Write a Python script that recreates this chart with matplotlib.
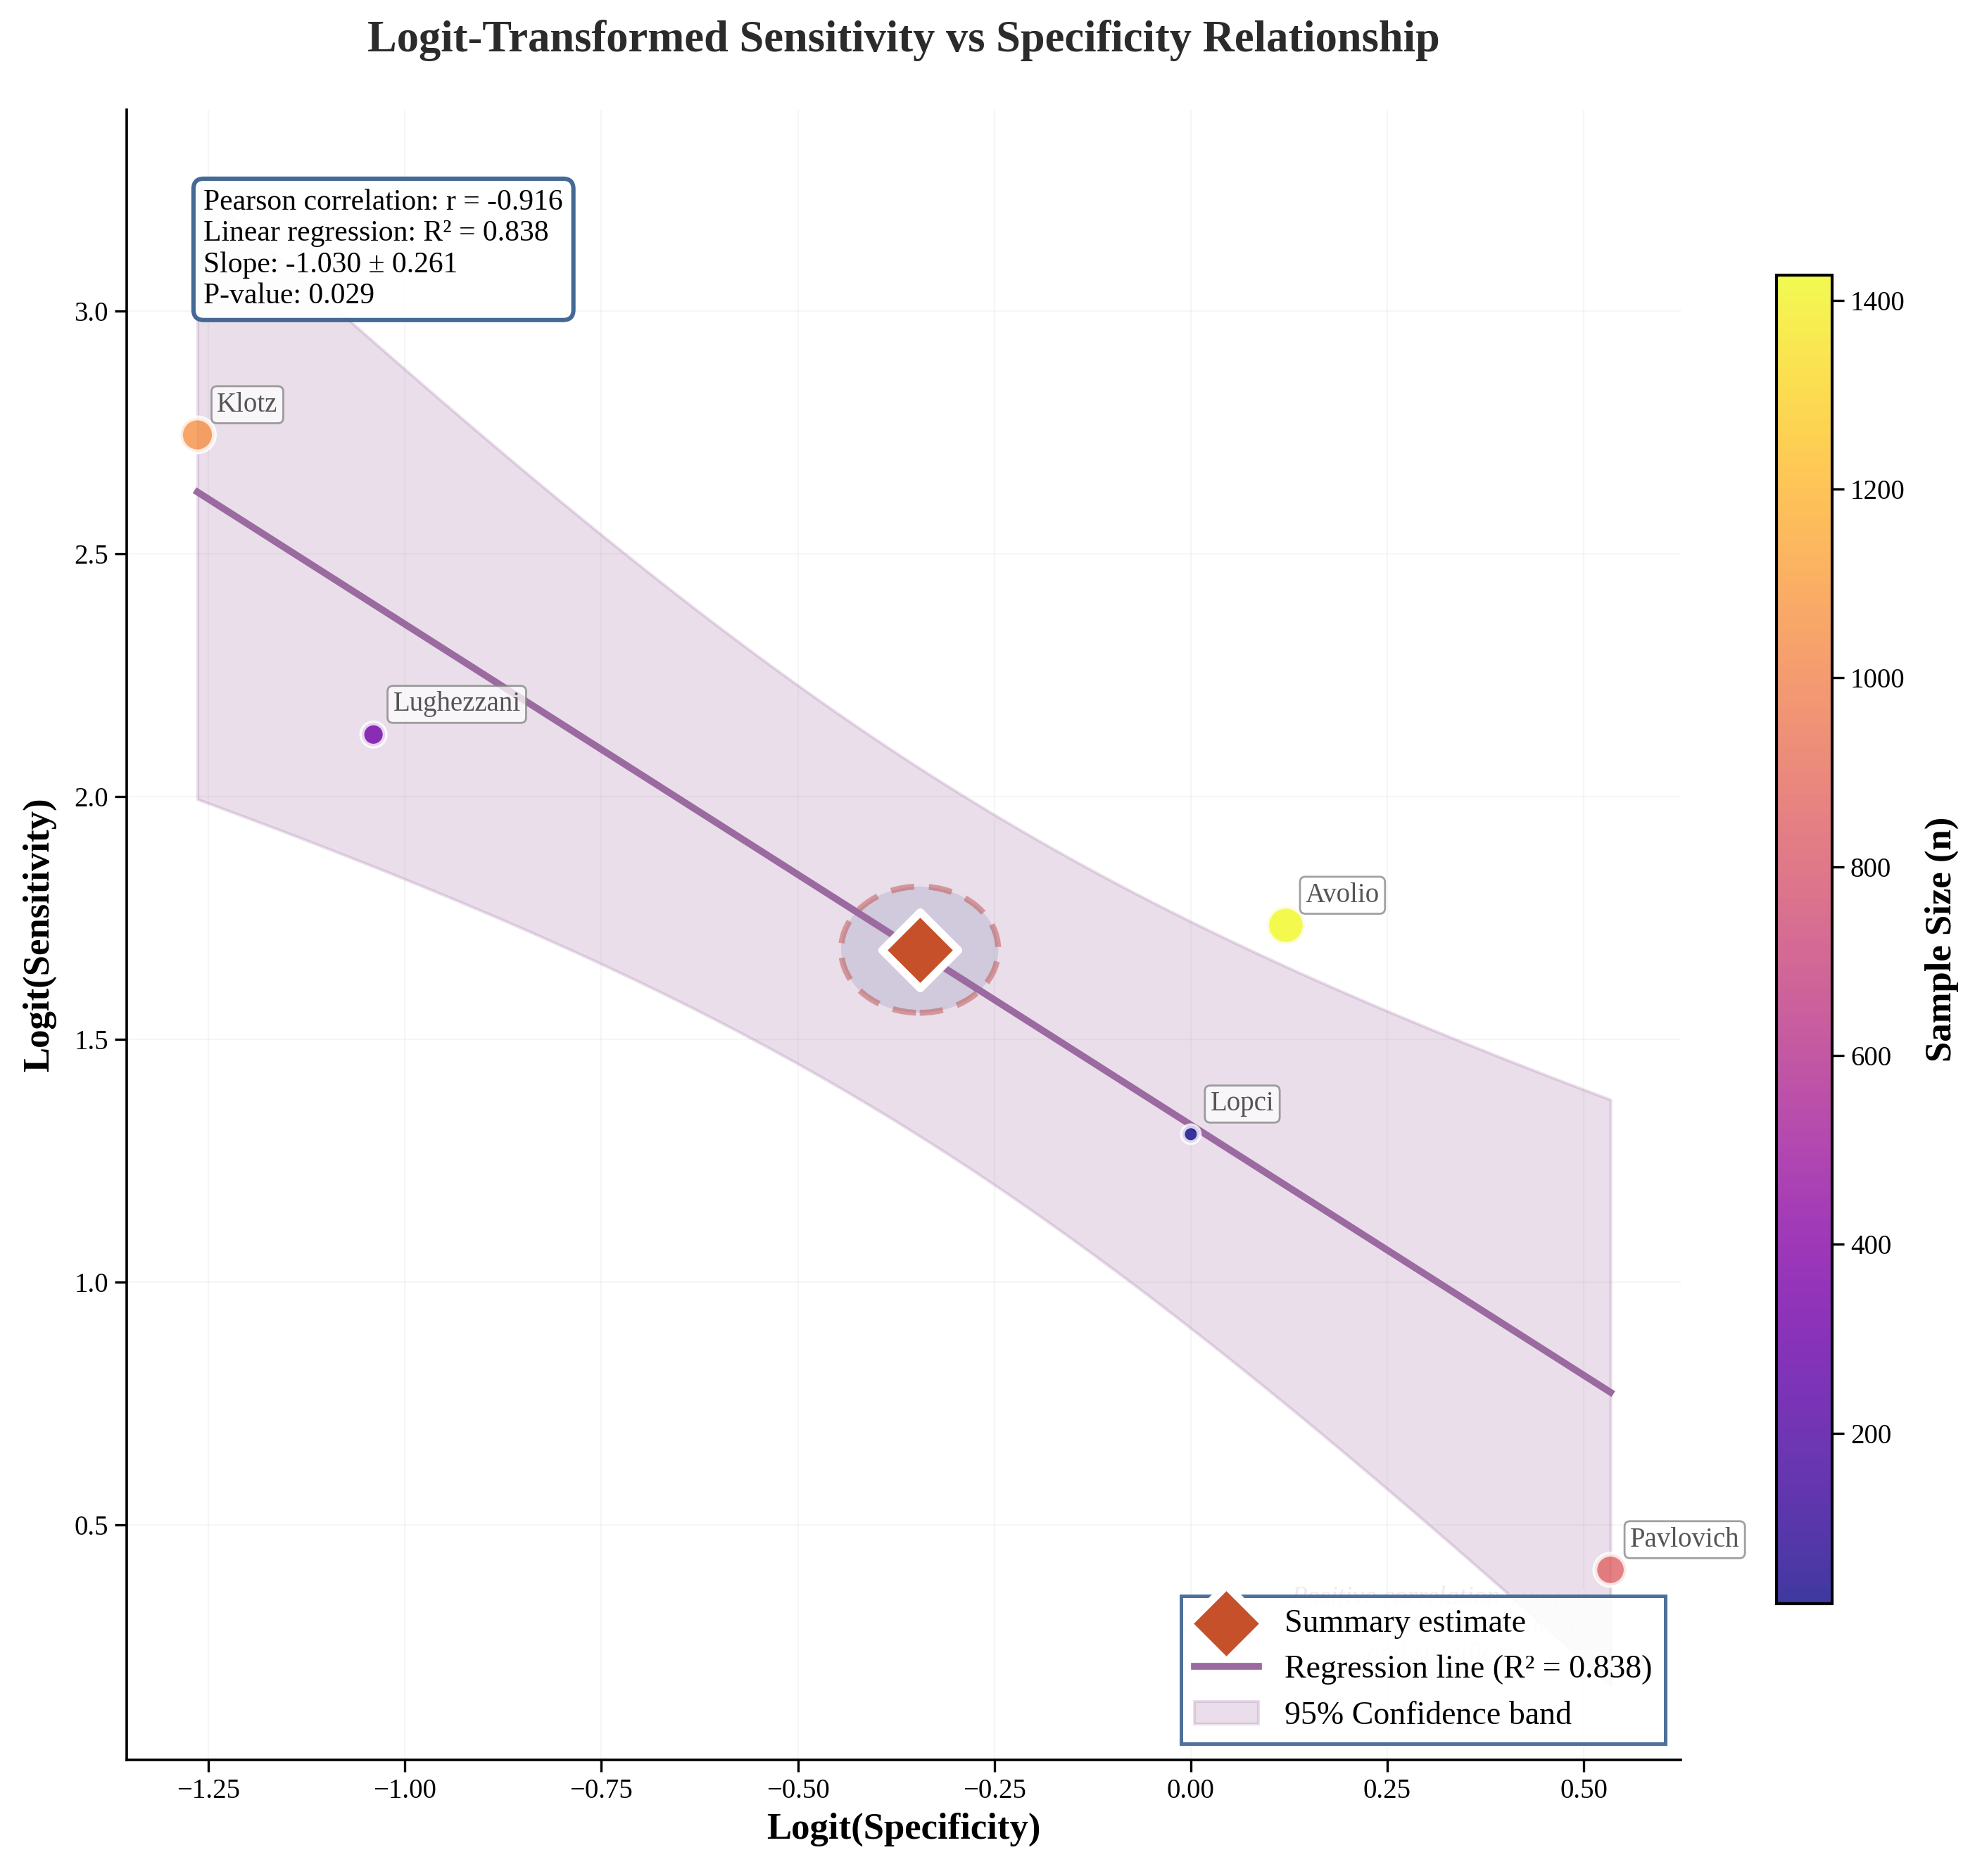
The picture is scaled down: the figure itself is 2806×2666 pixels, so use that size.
import numpy as np
import matplotlib
matplotlib.use("Agg")
import matplotlib.pyplot as plt
from matplotlib.patches import Ellipse

plt.rcParams['font.family'] = ['Liberation Serif', 'DejaVu Serif']

# study-level data (logit scale)
studies = ["Klotz", "Lughezzani", "Avolio", "Lopci", "Pavlovich"]
logit_spec = [-1.264, -1.040, 0.121, 0.000, 0.534]
logit_sens = [2.745, 2.128, 1.735, 1.305, 0.408]
sample_size = [1050, 330, 1427, 19, 850]

summary_spec = -0.345
summary_sens = 1.685
summary_ci_w = 0.20
summary_ci_h = 0.26

stats_lines = [
    "Pearson correlation: r = -0.916",
    "Linear regression: R\u00b2 = 0.838",
    "Slope: -1.030 \u00b1 0.261",
    "P-value: 0.029",
]
band_mult = 2.06

x = np.array(logit_spec)
y = np.array(logit_sens)
n = np.array(sample_size)

fig = plt.figure(figsize=(14.03, 13.33), dpi=200)
ax = fig.add_axes([0.0642, 0.0619, 0.787, 0.8796])

# regression + confidence band
slope, intercept = np.polyfit(x, y, 1)
xs = np.linspace(x.min(), x.max(), 200)
ys = slope * xs + intercept
resid = y - (slope * x + intercept)
s = np.sqrt(np.sum(resid ** 2) / (len(x) - 2))
sxx = np.sum((x - x.mean()) ** 2)
half = band_mult * s * np.sqrt(1 / len(x) + (xs - x.mean()) ** 2 / sxx)

ax.fill_between(xs, ys - half, ys + half, facecolor='#9b6aa0', alpha=0.22,
                edgecolor='#9b6aa0', linewidth=1.5, zorder=1,
                label='95% Confidence band')
ax.plot(xs, ys, color='#9b6aa0', linewidth=3.5, zorder=3,
        label='Regression line (R\u00b2 = 0.838)')

sc = ax.scatter(x, y, c=n, cmap='plasma', s=70 + n * 0.22, alpha=0.8,
                edgecolors=(1, 1, 1, 0.7), linewidths=2.5, zorder=4,
                vmin=n.min(), vmax=n.max())

for name, xi, yi in zip(studies, x, y):
    ax.annotate(name, (xi, yi), xytext=(10, 12), textcoords='offset points',
                fontsize=14, color='#555555', zorder=6,
                bbox=dict(boxstyle='round,pad=0.2', facecolor='white',
                          edgecolor='gray', alpha=0.75))

# summary point with its confidence region
ell = Ellipse((summary_spec, summary_sens), summary_ci_w, summary_ci_h,
              facecolor=(0.68, 0.67, 0.79, 0.4),
              edgecolor=(0.75, 0.31, 0.30, 0.5),
              linestyle=(0, (4, 2.5)), linewidth=3, zorder=2)
ax.add_patch(ell)
ax.scatter([summary_spec], [summary_sens], marker='D', s=760, color='#c5502a',
           edgecolors='white', linewidths=4, zorder=5,
           label='Summary estimate')

ax.text(0.847, 0.081,
        "Positive correlation suggests\ntrade-off between sensitivity\nand specificity",
        transform=ax.transAxes, ha='center', va='center', fontsize=13.5,
        style='italic', color='#ece6ee', alpha=0.8, zorder=1.5)

ax.text(0.0495, 0.952, "\n".join(stats_lines), transform=ax.transAxes,
        va='top', ha='left', fontsize=15, zorder=7,
        bbox=dict(boxstyle='round,pad=0.35', facecolor='white',
                  edgecolor='#3b6190', linewidth=2.2, alpha=0.95))

ax.set_title('Logit-Transformed Sensitivity vs Specificity Relationship',
             fontsize=22.5, fontweight='bold', color='#2b2b2b', pad=30)
ax.set_xlabel('Logit(Specificity)', fontsize=19, fontweight='bold')
ax.set_ylabel('Logit(Sensitivity)', fontsize=19, fontweight='bold', labelpad=9)
ax.tick_params(labelsize=14, length=6, width=1.2)
ax.grid(True, alpha=0.25, color='#dddddd', linewidth=0.8)
ax.set_axisbelow(True)
ax.spines['top'].set_visible(False)
ax.spines['right'].set_visible(False)
ax.spines['left'].set_linewidth(1.3)
ax.spines['bottom'].set_linewidth(1.3)

handles, labels = ax.get_legend_handles_labels()
order = [labels.index('Summary estimate'),
         labels.index('Regression line (R\u00b2 = 0.838)'),
         labels.index('95% Confidence band')]
leg = ax.legend([handles[i] for i in order], [labels[i] for i in order],
                loc='lower right', fontsize=16.5, fancybox=False,
                framealpha=0.9, edgecolor='#3b6190')
leg.get_frame().set_linewidth(1.8)
leg.set_zorder(8)

cax = fig.add_axes([0.8995, 0.145, 0.028, 0.7085])
cb = fig.colorbar(sc, cax=cax)
cb.set_label('Sample Size (n)', fontsize=19, fontweight='bold', labelpad=10)
cb.ax.tick_params(labelsize=14, length=6, width=1.2)
cb.outline.set_linewidth(1.5)

fig.savefig('out.png', dpi=200)
